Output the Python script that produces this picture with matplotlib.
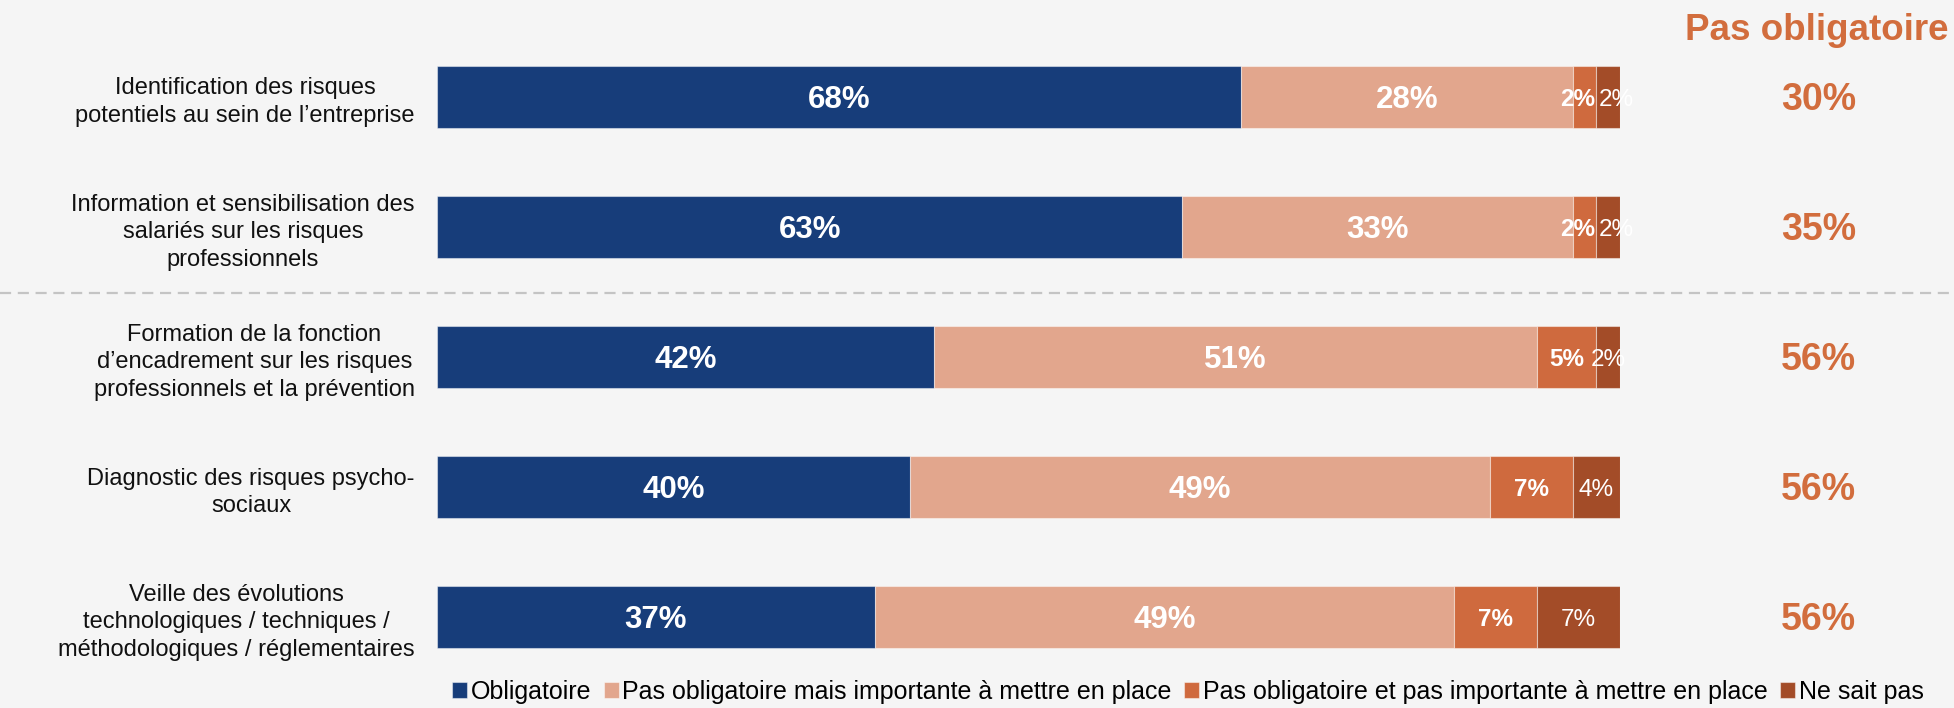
import matplotlib
matplotlib.use("Agg")
import matplotlib.pyplot as plt
from matplotlib.lines import Line2D
import numpy as np

plt.rcParams['font.family'] = ['Liberation Sans', 'DejaVu Sans']

# data
categories = [
    "Identification des risques\npotentiels au sein de l\u2019entreprise",
    "Information et sensibilisation des\nsalariés sur les risques\nprofessionnels",
    "Formation de la fonction\nd\u2019encadrement sur les risques\nprofessionnels et la prévention",
    "Diagnostic des risques psycho-\nsociaux",
    "Veille des évolutions\ntechnologiques / techniques /\nméthodologiques / réglementaires",
]
obligatoire = [68, 63, 42, 40, 37]
pas_oblig_importante = [28, 33, 51, 49, 49]
pas_oblig_pas_importante = [2, 2, 5, 7, 7]
ne_sait_pas = [2, 2, 2, 4, 7]
total_pas_obligatoire = [30, 35, 56, 56, 56]

series_names = ["Obligatoire",
                "Pas obligatoire mais importante à mettre en place",
                "Pas obligatoire et pas importante à mettre en place",
                "Ne sait pas"]
series = [obligatoire, pas_oblig_importante, pas_oblig_pas_importante, ne_sait_pas]
colors = ["#173D7A", "#E2A68D", "#CF6A3E", "#A34C28"]
accent = "#D26D3D"
bg = "#F5F5F5"

px = 130.0  # pixels per row, used to turn cap heights into data offsets


def cap_off(fs):
    # half cap height of Arial-like font, in data units of y
    return 0.716 * fs * 100 / 72 / 2 / px


fig = plt.figure(figsize=(19.54, 7.08), dpi=100, facecolor=bg)
ax = fig.add_axes([437 / 1954, 1 - 682 / 708, 1183 / 1954, 650 / 708])
ax.set_facecolor(bg)

y = np.arange(len(categories))
left = np.zeros(len(categories))
handles = []
for i, (vals, col, name) in enumerate(zip(series, colors, series_names)):
    vals = np.array(vals, dtype=float)
    b = ax.barh(y, vals, left=left, height=0.47, color=col,
                edgecolor=(1, 1, 1, 0.45), linewidth=0.8, label=name)
    handles.append(b)
    for k, (yi, v, l) in enumerate(zip(y, vals, left)):
        if v >= 10:
            fs, fw = 22.5, 'bold'
        elif i == 3:
            fs, fw = 17.5, 'normal'
        else:
            fs, fw = 17.5, 'bold'
        xt, ha = l + v / 2, 'center'
        # tiny neighbouring segments: push labels apart like the original
        if pas_oblig_pas_importante[k] < 3:
            if i == 2:
                xt, ha = l + v - 0.1, 'right'
            elif i == 3:
                xt, ha = l + 0.2, 'left'
        ax.text(xt, yi + cap_off(fs), f"{int(v)}%", ha=ha, va='baseline',
                color='white', fontsize=fs, fontweight=fw, clip_on=False)
    left += vals

ax.set_xlim(0, 100)
ax.set_ylim(len(categories) - 0.5, -0.5)
ax.set_yticks(y)
ax.set_yticklabels(categories, fontsize=17, multialignment='center',
                   linespacing=1.33, color='#111111')
ax.tick_params(axis='y', length=0, pad=16)
ax.set_xticks([])
for s in ax.spines.values():
    s.set_visible(False)

# right column
ax.text(116.6, -0.438, "Pas obligatoire", ha='center', va='baseline',
        fontsize=26.5, fontweight='bold', color=accent, clip_on=False)
for yi, v in zip(y, total_pas_obligatoire):
    ax.text(116.8, yi + cap_off(27), f"{v}%", ha='center', va='baseline',
            fontsize=27, fontweight='bold', color=accent, clip_on=False)

# dashed separator between the two groups
fig.add_artist(Line2D([0, 1], [1 - 293 / 708] * 2, transform=fig.transFigure,
                      color='#C4C4C4', linewidth=1.6, linestyle=(0, (5, 3))))

fig.legend(handles=handles, loc='center', bbox_to_anchor=(1188 / 1954, 1 - 692 / 708),
           ncol=4, frameon=False, fontsize=18, handlelength=0.6, handleheight=0.6,
           handletextpad=0.15, columnspacing=0.5, borderpad=0)

fig.savefig("out.png", dpi=100, facecolor=bg)
